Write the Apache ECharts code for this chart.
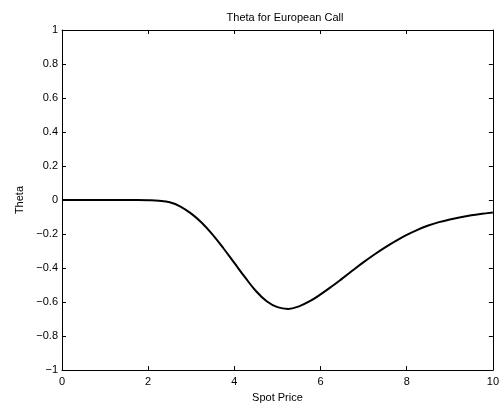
<!DOCTYPE html>
<html><head><meta charset="utf-8">
<script src="https://cdn.jsdelivr.net/npm/echarts@6/dist/echarts.min.js"></script>
<style>html,body{margin:0;padding:0;background:#fff}#c{width:502px;height:408px}</style>
</head><body><div id="c"></div>
<script>
var title = "Theta for European Call";
var xName = "Spot Price";
var yName = "Theta";
var spot = [0,0.25,0.5,0.75,1,1.25,1.5,1.75,2,2.25,2.5,2.75,3,3.25,3.5,3.75,4,4.25,4.5,4.75,5,5.25,5.5,5.75,6,6.25,6.5,6.75,7,7.25,7.5,7.75,8,8.25,8.5,8.75,9,9.25,9.5,9.75,10];
var theta = [0,0,0,0,0,0,0,0,-0.001,-0.004,-0.013,-0.038,-0.08,-0.135,-0.205,-0.285,-0.37,-0.455,-0.535,-0.595,-0.63,-0.64,-0.625,-0.595,-0.555,-0.51,-0.462,-0.413,-0.365,-0.32,-0.278,-0.24,-0.205,-0.175,-0.15,-0.13,-0.114,-0.101,-0.09,-0.081,-0.073];
var xTicks = [0,2,4,6,8,10];
var yTicks = [-1,-0.8,-0.6,-0.4,-0.2,0,0.2,0.4,0.6,0.8,1];

var pts = spot.map(function(x,i){return [x,theta[i]];});
var fmt = function(v){return String(Math.round(v*10)/10).replace('-', '\u2212');};
var font = 'Liberation Sans, Arial, sans-serif';
function ax(){
  return {
    axisLine:{show:true,onZero:false,lineStyle:{color:'#000',width:1}},
    axisTick:{show:true,inside:true,length:4,lineStyle:{color:'#000'}},
    splitLine:{show:false}
  };
}
var chart = echarts.init(document.getElementById('c'));
chart.setOption({
  animation:false,
  backgroundColor:'#fff',
  title:{text:title,left:280,top:7,textAlign:'center',textStyle:{fontFamily:font,fontSize:11,fontWeight:'normal',color:'#000'}},
  grid:{left:62,right:5,top:30,bottom:36,containLabel:false},
  xAxis:[
    Object.assign(ax(),{type:'value',min:xTicks[0],max:xTicks[xTicks.length-1],interval:xTicks[1]-xTicks[0],position:'bottom',
      name:xName,nameLocation:'middle',nameGap:20,nameTextStyle:{fontFamily:font,fontSize:11,color:'#000'},
      axisLabel:{margin:6,fontFamily:font,fontSize:11,color:'#000',formatter:fmt,showMaxLabel:true}}),
    Object.assign(ax(),{type:'value',min:xTicks[0],max:xTicks[xTicks.length-1],interval:xTicks[1]-xTicks[0],position:'top',axisLabel:{show:false}})
  ],
  yAxis:[
    Object.assign(ax(),{type:'value',min:yTicks[0],max:yTicks[yTicks.length-1],interval:0.2,position:'left',
      name:yName,nameLocation:'middle',nameGap:37,nameRotate:90,nameTextStyle:{fontFamily:font,fontSize:11,color:'#000'},
      axisLabel:{margin:4,fontFamily:font,fontSize:11,color:'#000',formatter:fmt}}),
    Object.assign(ax(),{type:'value',min:yTicks[0],max:yTicks[yTicks.length-1],interval:0.2,position:'right',axisLabel:{show:false}})
  ],
  series:[{type:'line',data:pts,smooth:0.4,showSymbol:false,lineStyle:{color:'#000',width:2},xAxisIndex:0,yAxisIndex:0}]
});
</script></body></html>
